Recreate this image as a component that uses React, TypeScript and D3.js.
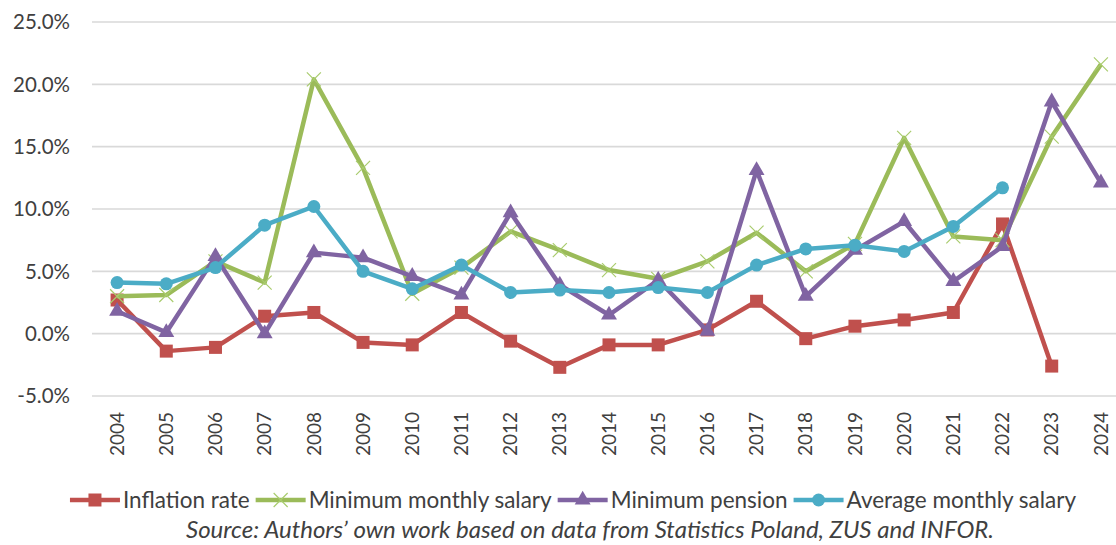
import React, { useEffect, useRef } from "react";
import * as d3 from "d3";

// years on the category axis
const years = [
  "2004", "2005", "2006", "2007", "2008", "2009", "2010", "2011", "2012", "2013", "2014",
  "2015", "2016", "2017", "2018", "2019", "2020", "2021", "2022", "2023", "2024",
];

// values in % (null = no point)
const inflationRate = [
  2.7, -1.4, -1.1, 1.4, 1.7, -0.7, -0.9, 1.7, -0.6, -2.7, -0.9,
  -0.9, 0.3, 2.6, -0.4, 0.6, 1.1, 1.7, 8.8, -2.6, null,
];
const minMonthlySalary = [
  3.0, 3.1, 5.8, 4.1, 20.4, 13.3, 3.2, 5.3, 8.2, 6.7, 5.1,
  4.4, 5.8, 8.1, 5.0, 7.2, 15.7, 7.8, 7.5, 15.8, 21.6,
];
const minPension = [
  1.8, 0.1, 6.2, 0.0, 6.5, 6.1, 4.6, 3.1, 9.7, 3.9, 1.5,
  4.3, 0.2, 13.1, 3.0, 6.7, 9.0, 4.2, 7.0, 18.6, 12.1,
];
const avgMonthlySalary = [
  4.1, 4.0, 5.3, 8.7, 10.2, 5.0, 3.6, 5.5, 3.3, 3.5, 3.3,
  3.7, 3.3, 5.5, 6.8, 7.1, 6.6, 8.6, 11.7, null, null,
];

const yTicks = [-5, 0, 5, 10, 15, 20, 25];

const seriesList = [
  { name: "Inflation rate", values: inflationRate, color: "#C0504D", marker: "square" },
  { name: "Minimum monthly salary", values: minMonthlySalary, color: "#9BBB59", marker: "x" },
  { name: "Minimum pension", values: minPension, color: "#8064A2", marker: "triangle" },
  { name: "Average monthly salary", values: avgMonthlySalary, color: "#4BACC6", marker: "circle" },
];

const W = 1116;
const H = 545;
const FONT = "Lato, 'Open Sans', sans-serif";

// draws one marker at (0,0) inside group g
function drawMarker(g: any, marker: string, color: string) {
  if (marker === "square") {
    g.append("rect").attr("x", -6.5).attr("y", -6.5).attr("width", 13).attr("height", 13).attr("fill", color);
  } else if (marker === "circle") {
    g.append("circle").attr("r", 6.5).attr("fill", color);
  } else if (marker === "triangle") {
    g.append("path").attr("d", d3.symbol(d3.symbolTriangle, 110)()).attr("fill", color);
  } else {
    g.append("path")
      .attr("d", "M-7,-7L7,7M-7,7L7,-7")
      .attr("stroke", "#A9CC6E")
      .attr("stroke-width", 1.2)
      .attr("fill", "none");
  }
}

const App = () => {
  const svgRef = useRef(null);

  useEffect(() => {
    const svg = d3.select(svgRef.current);
    svg.selectAll("*").remove();

    const x = d3.scaleBand().domain(years).range([92.5, 1125.5]);
    const y = d3.scaleLinear().domain([-5, 25]).range([396, 22]);

    // grid
    svg
      .append("g")
      .selectAll("line")
      .data(yTicks)
      .enter()
      .append("line")
      .attr("x1", 92)
      .attr("x2", W)
      .attr("y1", (d) => y(d))
      .attr("y2", (d) => y(d))
      .attr("stroke", "#D9D9D9")
      .attr("stroke-width", 1.6);

    // y labels
    svg
      .append("g")
      .selectAll("text")
      .data(yTicks)
      .enter()
      .append("text")
      .attr("x", 70)
      .attr("y", (d) => y(d))
      .attr("dy", "0.35em")
      .attr("text-anchor", "end")
      .attr("font-family", FONT)
      .attr("font-size", 20.5)
      .attr("fill", "#404040")
      .text((d) => d.toFixed(1) + "%");

    // x labels, rotated
    svg
      .append("g")
      .selectAll("text")
      .data(years)
      .enter()
      .append("text")
      .attr("transform", (d) => `translate(${x(d) + x.bandwidth() / 2},412) rotate(-90)`)
      .attr("dy", "0.35em")
      .attr("text-anchor", "end")
      .attr("font-family", FONT)
      .attr("font-size", 19)
      .attr("fill", "#404040")
      .text((d) => d);

    const cx = (i: number) => x(years[i]) + x.bandwidth() / 2;

    seriesList.forEach((s) => {
      const line = d3
        .line<any>()
        .defined((d) => d != null)
        .x((d, i) => cx(i))
        .y((d) => y(d));
      svg
        .append("path")
        .datum(s.values)
        .attr("d", line)
        .attr("fill", "none")
        .attr("stroke", s.color)
        .attr("stroke-width", 4.5)
        .attr("stroke-linejoin", "round");
      s.values.forEach((v, i) => {
        if (v == null) return;
        const g = svg.append("g").attr("transform", `translate(${cx(i)},${y(v)})`);
        drawMarker(g, s.marker, s.color);
      });
    });

    // legend, laid out left to right
    const legend = svg.append("g");
    let lx = 0;
    seriesList.forEach((s) => {
      legend
        .append("line")
        .attr("x1", lx)
        .attr("x2", lx + 50)
        .attr("y1", 0)
        .attr("y2", 0)
        .attr("stroke", s.color)
        .attr("stroke-width", 4.5);
      const mg = legend.append("g").attr("transform", `translate(${lx + 25},0)`);
      drawMarker(mg, s.marker, s.color);
      const t = legend
        .append("text")
        .attr("x", lx + 53)
        .attr("y", 0)
        .attr("dy", "0.35em")
        .attr("font-family", FONT)
        .attr("font-size", 22.5)
        .attr("fill", "#404040")
        .text(s.name);
      const tw = (t.node() as any).getComputedTextLength();
      lx += 53 + tw + 6;
    });
    legend.attr("transform", `translate(${573 - (lx - 6) / 2},500)`);

    svg
      .append("text")
      .attr("x", 590)
      .attr("y", 530)
      .attr("dy", "0.35em")
      .attr("text-anchor", "middle")
      .attr("font-family", FONT)
      .attr("font-style", "italic")
      .attr("font-size", 24)
      .attr("fill", "#404040")
      .text("Source: Authors\u2019 own work based on data from Statistics Poland, ZUS and INFOR.");
  }, []);

  return (
    <svg
      ref={svgRef}
      width={W}
      height={H}
      style={{ position: "absolute", left: 0, top: 0, background: "#fff" }}
    />
  );
};

export default App;
